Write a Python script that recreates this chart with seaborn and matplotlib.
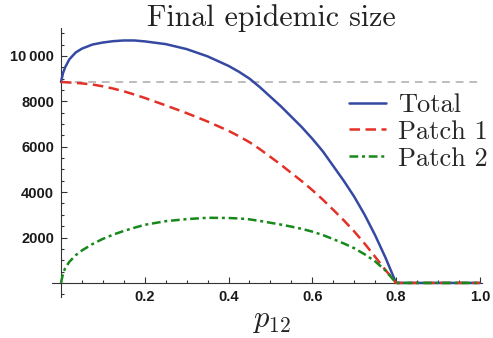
import matplotlib
matplotlib.use("Agg")
import matplotlib.pyplot as plt
import seaborn as sns
import pandas as pd
from matplotlib.ticker import MultipleLocator

# values
p12 = [0, 0.005, 0.01, 0.02, 0.035, 0.05, 0.075, 0.1, 0.125, 0.15, 0.175, 0.2, 0.25, 0.3,
       0.35, 0.4, 0.425, 0.45, 0.475, 0.5, 0.525, 0.55, 0.575, 0.6, 0.625, 0.65, 0.675,
       0.7, 0.725, 0.75, 0.775, 0.8, 0.85, 0.9, 0.95, 1.0]
total = [8850, 9250, 9500, 9850, 10150, 10320, 10500, 10590, 10650, 10680, 10680, 10640, 10520, 10300,
         9980, 9560, 9300, 9000, 8620, 8200, 7780, 7320, 6860, 6350, 5800, 5150, 4500,
         3800, 3000, 2100, 1100, 0, 0, 0, 0, 0]
patch1 = [8850, 8845, 8840, 8830, 8810, 8790, 8740, 8660, 8560, 8440, 8300, 8150, 7820, 7480,
          7110, 6700, 6460, 6200, 5890, 5550, 5210, 4840, 4480, 4090, 3670, 3220, 2760,
          2270, 1730, 1150, 560, 0, 0, 0, 0, 0]
patch2 = [0, 420, 650, 930, 1220, 1430, 1710, 1940, 2130, 2290, 2430, 2560, 2720, 2810,
          2870, 2860, 2840, 2800, 2730, 2650, 2570, 2480, 2380, 2260, 2110, 1930, 1740,
          1530, 1260, 950, 540, 0, 0, 0, 0, 0]
no_movement = 8850
ref_x = [0, 1.0]

y_ticks = [2000, 4000, 6000, 8000, 10000]
y_labels = ["2000", "4000", "6000", "8000", "10\u2009000"]
x_ticks = [0.2, 0.4, 0.6, 0.8, 1.0]
x_labels = ["0.2", "0.4", "0.6", "0.8", "1.0"]

sns.set_style("ticks")
plt.rcParams["mathtext.fontset"] = "cm"

df = pd.DataFrame({"p12": p12, "Total": total, "Patch 1": patch1, "Patch 2": patch2})

fig = plt.figure(figsize=(4.93, 3.38), dpi=100)
ax = fig.add_axes([0.105, 0.1213, 0.8726, 0.7959])

ax.plot(ref_x, [no_movement, no_movement], color="#bdbdbd", lw=1.4, ls=(0, (4, 3)), zorder=1)
sns.lineplot(data=df, x="p12", y="Total", ax=ax, color="#3549a3", lw=1.8, label="Total", zorder=3)
sns.lineplot(data=df, x="p12", y="Patch 1", ax=ax, color="#e33127", lw=1.8,
             linestyle=(0, (4.2, 2.2)), label="Patch 1", zorder=4)
sns.lineplot(data=df, x="p12", y="Patch 2", ax=ax, color="#17891b", lw=1.8,
             linestyle=(0, (3.5, 1.5, 1.2, 1.5)), label="Patch 2", zorder=5)

ax.set_xlim(-0.022, 1.005)
ax.set_ylim(-620, 11230)
for s in ["top", "right"]:
    ax.spines[s].set_visible(False)
ax.spines["left"].set_position(("data", 0))
ax.spines["bottom"].set_position(("data", 0))
for s in ["left", "bottom"]:
    ax.spines[s].set_linewidth(0.8)
    ax.spines[s].set_color("#333333")

ax.set_xticks(x_ticks, x_labels)
ax.set_yticks(y_ticks, y_labels)
ax.xaxis.set_minor_locator(MultipleLocator(0.05))
ax.yaxis.set_minor_locator(MultipleLocator(500))
ax.tick_params(which="both", direction="in", color="#333333", width=0.8)
ax.tick_params(which="major", length=4, pad=5)
ax.tick_params(which="minor", length=2.2)
for lab in ax.get_xticklabels() + ax.get_yticklabels():
    lab.set_fontfamily("Liberation Sans")
    lab.set_fontweight("bold")
    lab.set_fontsize(10.5)
    lab.set_color("#1a1a1a")
ax.set_xlabel("")
ax.set_ylabel("")

leg = ax.legend(loc="upper left", bbox_to_anchor=(0.692, 0.758), frameon=False,
                prop={"family": "cmr10", "size": 19}, handlelength=1.4,
                handletextpad=0.45, labelspacing=0.12, borderpad=0, borderaxespad=0)

fig.text(271 / 493, 1 - 26 / 338, "Final epidemic size", family="cmr10", fontsize=21.5,
         ha="center", va="baseline", color="#222222")
fig.text(271 / 493, 1 - 327 / 338, r"$p_{12}$", fontsize=22, ha="center", va="baseline",
         color="#222222")

fig.savefig("out.png", dpi=100)
